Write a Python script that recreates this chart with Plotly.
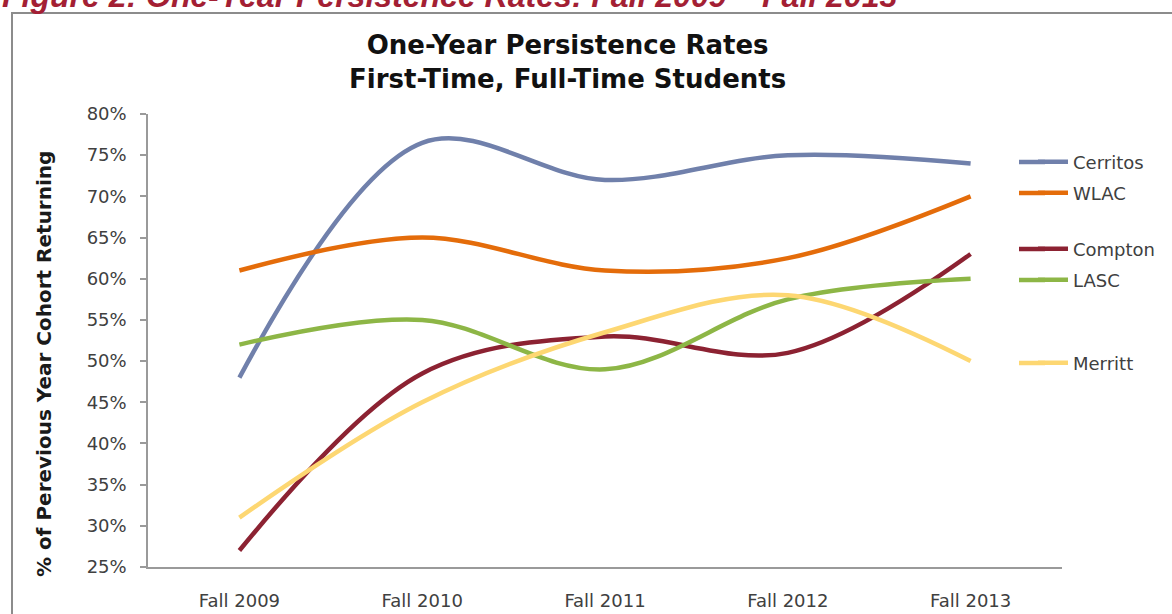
import plotly.graph_objects as go

years = ["Fall 2009", "Fall 2010", "Fall 2011", "Fall 2012", "Fall 2013"]
cerritos = [48, 76.5, 72, 75, 74]
wlac = [61, 65, 61, 62.5, 70]
compton = [27, 48.5, 53, 51, 63]
lasc = [52, 55, 49, 57.5, 60]
merritt = [31, 45, 53.5, 58, 50]

series = [
    ("Cerritos", cerritos, "#7080AB"),
    ("WLAC", wlac, "#E46C0A"),
    ("Compton", compton, "#8C2232"),
    ("LASC", lasc, "#8DB646"),
    ("Merritt", merritt, "#FDD772"),
]

W, H = 1172, 614
L, R, T, B = 148, 110, 114, 47
pw, ph = W - L - R, H - T - B

def px_x(x):
    return (x - L) / pw

def px_y(y):
    return 1 - (y - T) / ph

legend_y = [162, 193, 249, 280, 363]

fig = go.Figure()
legend_names = ["legend", "legend2", "legend3", "legend4", "legend5"]
for i, (name, vals, col) in enumerate(series):
    fig.add_trace(go.Scatter(
        x=years, y=[v / 100 for v in vals], name=name, mode="lines",
        line=dict(color=col, width=4.5, shape="spline", smoothing=1.0),
        legend=legend_names[i],
    ))

layout_legends = {}
for i, ln in enumerate(legend_names):
    layout_legends[ln] = dict(
        x=px_x(1033), y=px_y(legend_y[i]), xanchor="left", yanchor="middle",
        bgcolor="rgba(0,0,0,0)", borderwidth=0,
        font=dict(family="DejaVu Sans", size=18, color="#404040"),
        itemwidth=30, tracegroupgap=0,
    )

# extend legend swatches to the longer length used in the original
swatch_shapes = []
for i, (name, vals, col) in enumerate(series):
    swatch_shapes.append(dict(
        type="line", xref="paper", yref="paper",
        x0=px_x(1019), x1=px_x(1045), y0=px_y(legend_y[i]), y1=px_y(legend_y[i]),
        line=dict(color=col, width=4.5),
    ))

fig.update_layout(
    width=W, height=H,
    margin=dict(l=L, r=R, t=T, b=B, autoexpand=False),
    paper_bgcolor="white", plot_bgcolor="white",
    showlegend=True,
    **layout_legends,
    xaxis=dict(
        type="category", range=[-0.5, 4.5], showgrid=False, automargin=False,
        showline=True, linecolor="#9A9A9A", linewidth=1.5,
        ticks="", tickfont=dict(family="DejaVu Sans", size=18, color="#404040"),
        ticklabelstandoff=17,
    ),
    yaxis=dict(
        range=[0.25, 0.80], dtick=0.05, tickformat=".0%", showgrid=False,
        automargin=False,
        showline=True, linecolor="#9A9A9A", linewidth=1.5,
        ticks="outside", ticklen=6, tickcolor="#9A9A9A", tickwidth=1.5,
        tickfont=dict(family="DejaVu Sans", size=18, color="#404040"),
        ticklabelstandoff=10,
    ),
    shapes=[dict(
        type="rect", xref="paper", yref="paper",
        x0=px_x(12), x1=px_x(1185), y0=px_y(630), y1=px_y(13),
        line=dict(color="#8C8C8C", width=2), fillcolor="rgba(0,0,0,0)",
        layer="below",
    )] + swatch_shapes,
    annotations=[
        dict(text="<b>One-Year Persistence Rates<br>First-Time, Full-Time Students</b>",
             xref="paper", yref="paper", x=px_x(567), y=px_y(62),
             xanchor="center", yanchor="middle", showarrow=False,
             font=dict(family="DejaVu Sans", size=26, color="#111111")),
        dict(text="<b><i>Figure 2: One-Year Persistence Rates: Fall 2009 – Fall 2013</i></b>",
             xref="paper", yref="paper", x=px_x(0), y=px_y(16),
             xanchor="left", yanchor="bottom", showarrow=False,
             font=dict(family="Liberation Sans", size=32, color="#A31F34")),
        dict(text="<b>% of Perevious Year Cohort Returning</b>",
             xref="paper", yref="paper", x=px_x(44), y=px_y(364),
             xanchor="center", yanchor="middle", showarrow=False, textangle=-90,
             font=dict(family="DejaVu Sans", size=20, color="#1a1a1a")),
    ],
)

fig.write_html("out.html")
